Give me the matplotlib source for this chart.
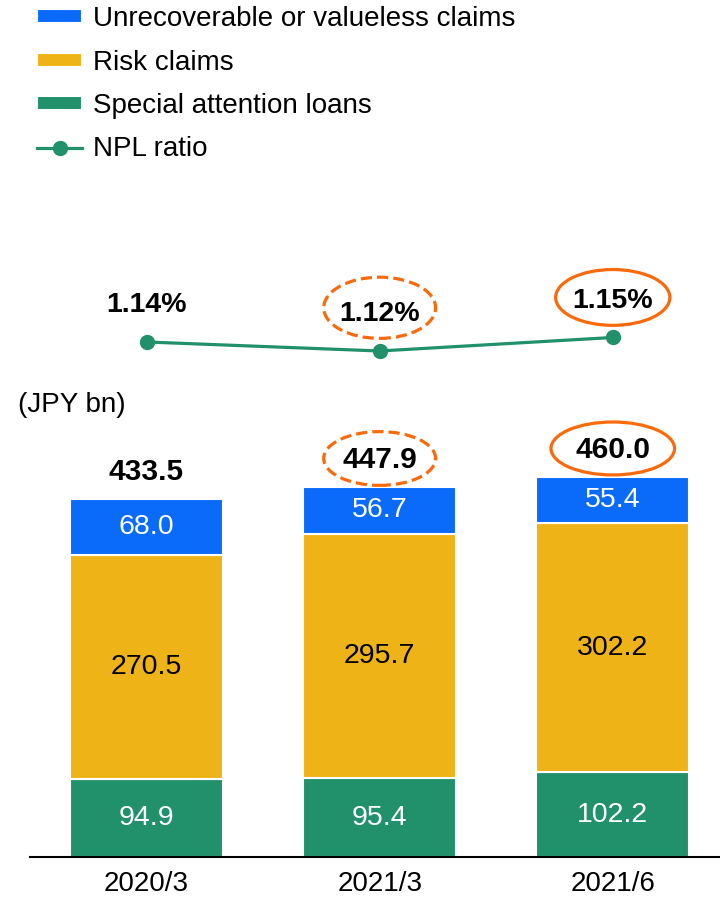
import matplotlib
matplotlib.use('Agg')
import matplotlib.pyplot as plt
from matplotlib.patches import Ellipse

plt.rcParams['font.family'] = ['Liberation Sans', 'DejaVu Sans']

# data
periods = ['2020/3', '2021/3', '2021/6']
special_attention = [94.9, 95.4, 102.2]
risk_claims = [270.5, 295.7, 302.2]
unrecoverable = [68.0, 56.7, 55.4]
totals = [433.5, 447.9, 460.0]
npl_ratio = [1.14, 1.12, 1.15]

BLUE = '#0A6BFA'
YELLOW = '#EEB417'
GREEN = '#20916A'
ORANGE = '#FA6A0A'

fig = plt.figure(figsize=(7.2, 8.97), dpi=100)
W, H = 720, 897

# bar axes: baseline at 857px from top, top at 380px
ax = fig.add_axes([30 / W, 40 / H, 690 / W, 477 / H])
x = list(range(len(periods)))
bw = 0.657

b1 = ax.bar(x, special_attention, bw, color=GREEN, edgecolor='white', linewidth=1.5,
            label='Special attention loans')
bottom2 = special_attention
b2 = ax.bar(x, risk_claims, bw, bottom=bottom2, color=YELLOW, edgecolor='white',
            linewidth=1.5, label='Risk claims')
bottom3 = [a + b for a, b in zip(special_attention, risk_claims)]
b3 = ax.bar(x, unrecoverable, bw, bottom=bottom3, color=BLUE, edgecolor='white',
            linewidth=1.5, label='Unrecoverable or valueless claims')

for i in x:
    ax.text(i, special_attention[i] / 2, f'{special_attention[i]:.1f}', ha='center',
            va='center', color='white', fontsize=20.5)
    ax.text(i, special_attention[i] + risk_claims[i] / 2, f'{risk_claims[i]:.1f}',
            ha='center', va='center', color='black', fontsize=20.5)
    ax.text(i, bottom3[i] + unrecoverable[i] / 2, f'{unrecoverable[i]:.1f}',
            ha='center', va='center', color='white', fontsize=20.5)
    ax.text(i, totals[i] + 32, f'{totals[i]:.1f}', ha='center', va='center',
            color='black', fontsize=21.5, fontweight='bold')

# highlight circles round the totals
ax.add_patch(Ellipse((1, totals[1] + 34), 0.48, 65, fill=False, edgecolor=ORANGE,
                     linewidth=2.3, linestyle=(0, (3.5, 1.6))))
ax.add_patch(Ellipse((2, totals[2] + 34), 0.53, 64, fill=False, edgecolor=ORANGE,
                     linewidth=2.3))

ax.set_xlim(-0.5, 2.46)
ax.set_ylim(0, 576.8)
for s in ['top', 'right', 'left']:
    ax.spines[s].set_visible(False)
ax.spines['bottom'].set_linewidth(1.5)
ax.set_yticks([])
ax.set_xticks(x)
ax.set_xticklabels(periods, fontsize=20)
ax.tick_params(axis='x', length=0, pad=10)

fig.text(18 / W, 1 - 405 / H, '(JPY bn)', fontsize=20, ha='left', va='center')

# NPL ratio line
ax2 = fig.add_axes([30 / W, 497 / H, 690 / W, 150 / H])
ax2.set_xlim(-0.5, 2.46)
ax2.set_ylim(1.0111, 1.3444)
ax2.axis('off')
ln, = ax2.plot(x, npl_ratio, color=GREEN, linewidth=2.3, marker='o', markersize=10,
               label='NPL ratio')
for i in x:
    ax2.annotate(f'{npl_ratio[i]:.2f}%', (i, npl_ratio[i]), xytext=(0, 26.5),
                 textcoords='offset points', ha='center', va='center',
                 fontsize=20.5, fontweight='bold')

ax2.add_patch(Ellipse((1, npl_ratio[1] + 0.096), 0.48, 0.136, fill=False,
                      edgecolor=ORANGE, linewidth=2.3, linestyle=(0, (3.5, 1.6))))
ax2.add_patch(Ellipse((2, npl_ratio[2] + 0.089), 0.49, 0.124, fill=False,
                      edgecolor=ORANGE, linewidth=2.3))

fig.legend(handles=[b3, b2, b1, ln], loc='upper left',
           bbox_to_anchor=(37 / W, 1 - 6 / H), frameon=False, fontsize=20,
           borderpad=0, borderaxespad=0, handlelength=1.62, handleheight=0.4,
           handletextpad=0.4, labelspacing=0.63)

plt.savefig('out.png', dpi=100)
